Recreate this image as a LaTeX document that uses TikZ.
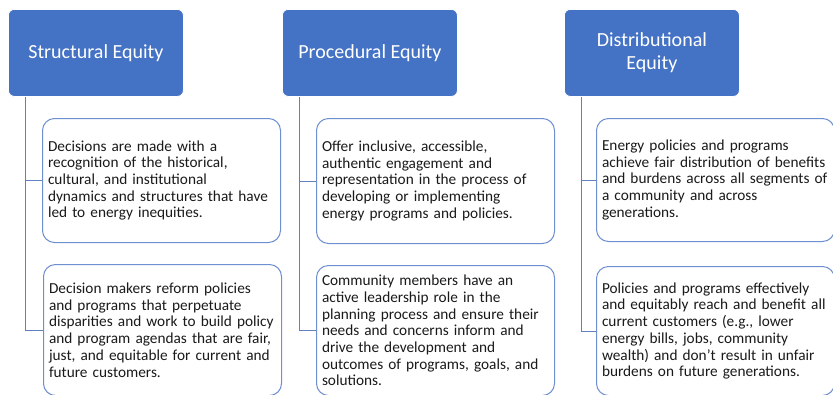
\documentclass[tikz,border=0pt]{standalone}
\usepackage{fontspec}
\setmainfont{Carlito}
\usepackage{tikz}
\usetikzlibrary{calc,positioning}
\usepackage{xcolor}

\definecolor{hdrblue}{HTML}{4472C4}
\definecolor{boxline}{HTML}{6E8FD0}
\definecolor{linkblue}{HTML}{6080C2}
\definecolor{bodytext}{HTML}{1A1A1A}

% no hyphenation inside the boxes
\hyphenpenalty=10000
\exhyphenpenalty=10000

\tikzset{
  hdr/.style={rectangle, rounded corners=6pt, fill=hdrblue, draw=white, line width=0.8pt,
    text=white, font=\fontsize{20}{23}\selectfont, align=center,
    minimum width=175pt, minimum height=87pt, anchor=north west},
  item/.style={rectangle, rounded corners=12pt, draw=boxline, fill=white, line width=1pt,
    text=bodytext, font=\fontsize{15.3}{16.7}\selectfont, align=left,
    text width=227pt, inner xsep=5.5pt, inner ysep=0pt, anchor=north west},
  link/.style={draw=linkblue, line width=1pt}
}

\begin{document}
\begin{tikzpicture}[x=1pt,y=-1pt]
\useasboundingbox (0,0) rectangle (833,394);

% the three headings
\node [hdr] (h1) at (8,9) {Structural Equity};
\node [hdr] (h2) at (282,9) {Procedural Equity};
\node [hdr] (h3) at (564,9) {Distributional\\Equity};

% structural
\node [item, minimum height=124pt] (s1) at (42,118) {Decisions are made with a\\recognition of the historical,\\cultural, and institutional\\dynamics and structures that have\\led to energy inequities.};
\node [item, minimum height=131pt] (s2) at (43,264) {Decision makers reform policies\\and programs that perpetuate\\disparities and work to build policy\\and program agendas that are fair,\\just, and equitable for current and\\future customers.};

% procedural
\node [item, minimum height=125pt] (p1) at (316,118) {Offer inclusive, accessible,\\authentic engagement and\\representation in the process of\\developing or implementing\\energy programs and policies.};
\node [item, minimum height=130pt] (p2) at (316,265) {Community members have an\\active leadership role in the\\planning process and ensure their\\needs and concerns inform and\\drive the development and\\outcomes of programs, goals, and\\solutions.};

% distributional
\node [item, minimum height=123pt] (d1) at (596,118) {Energy policies and programs\\achieve fair distribution of benefits\\and burdens across all segments of\\a community and across\\generations.};
\node [item, minimum height=129pt] (d2) at (596,266) {Policies and programs effectively\\and equitably reach and benefit all\\current customers (e.g., lower\\energy bills, jobs, community\\wealth) and don’t result in unfair\\burdens on future generations.};

% connectors
\coordinate (o1) at ($(h1.south west)+(17,0)$);
\coordinate (o2) at ($(h2.south west)+(17,0)$);
\coordinate (o3) at ($(h3.south west)+(17,0)$);
\draw [link] (o1) |- (s1.west);
\draw [link] (o1) |- (s2.west);
\draw [link] (o2) |- (p1.west);
\draw [link] (o2) |- (p2.west);
\draw [link] (o3) |- (d1.west);
\draw [link] (o3) |- (d2.west);
\end{tikzpicture}
\end{document}
